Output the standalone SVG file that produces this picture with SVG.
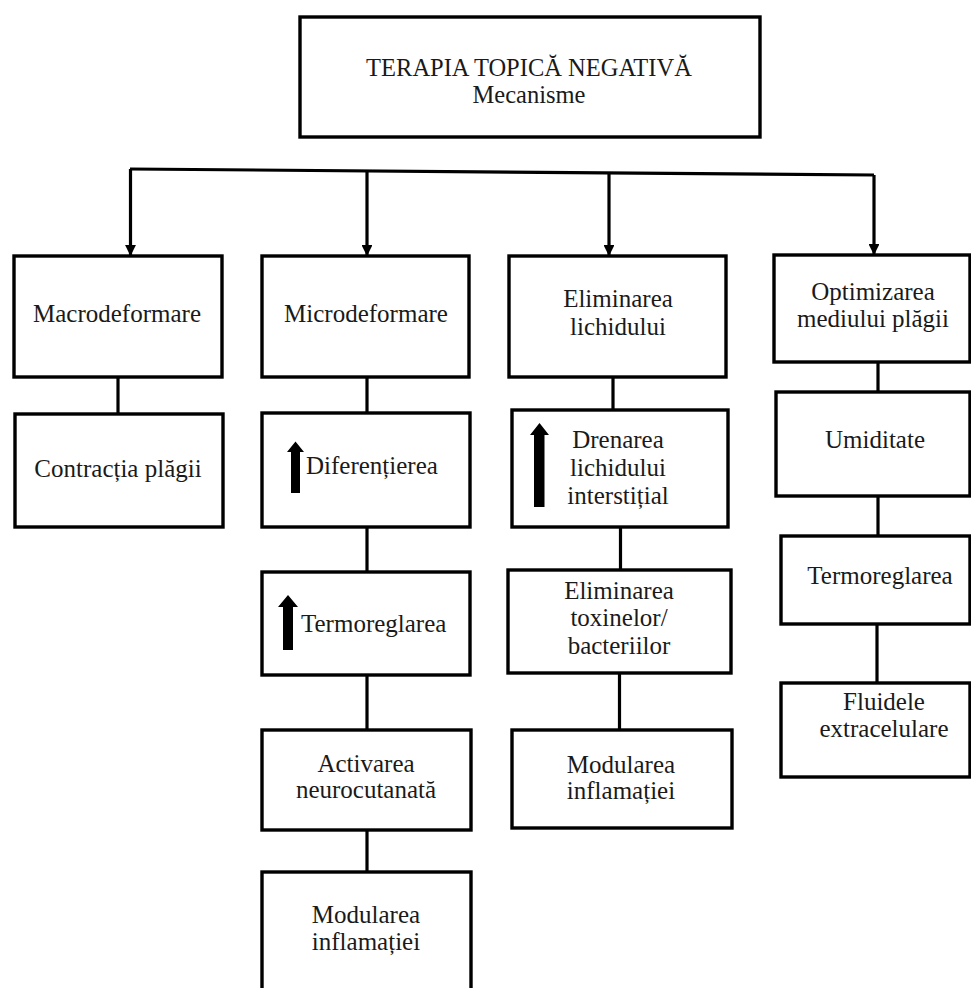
<svg xmlns="http://www.w3.org/2000/svg" width="971" height="988" viewBox="0 0 971 988">
<defs>
<style>
.box{fill:#fff;stroke:#000;stroke-width:3.4}
.ln{fill:none;stroke:#000;stroke-width:3.2}
text{font-family:"Liberation Serif","Times New Roman",serif;font-size:25px;fill:#1a1a1a;text-anchor:middle}
.title{font-size:24.5px}
.up{fill:#000}
</style>
<marker id="ah" viewBox="0 0 10 10" refX="10" refY="5" markerWidth="3.6" markerHeight="3.4" markerUnits="strokeWidth" orient="auto">
<path d="M0,0 L10,5 L0,10 z" fill="#000"/>
</marker>
</defs>
<rect width="971" height="988" fill="#fff"/>

<g id="connectors">
<path class="ln" d="M130,169 L874,175"/>
<path class="ln" d="M130.5,169 V256" marker-end="url(#ah)"/>
<path class="ln" d="M367,171 V256" marker-end="url(#ah)"/>
<path class="ln" d="M609,173 V256" marker-end="url(#ah)"/>
<path class="ln" d="M874,175 V255" marker-end="url(#ah)"/>
<path class="ln" d="M118,377 V414"/>
<path class="ln" d="M367,377 V413 M367,527 V572 M367,675 V730 M367,830 V872"/>
<path class="ln" d="M613,377 V410 M620.5,527 V570 M619.5,673 V730"/>
<path class="ln" d="M878,362 V392 M878,496 V536 M877,624 V683"/>
</g>

<g id="root">
<rect class="box" x="300" y="17" width="460" height="120"/>
<text class="title" x="529" y="76">TERAPIA TOPICĂ NEGATIVĂ</text>
<text class="title" x="529" y="103">Mecanisme</text>
</g>

<g id="macrodeformare">
<rect class="box" x="14" y="256" width="208" height="121"/>
<text x="117" y="322">Macrodeformare</text>
</g>
<g id="contractia">
<rect class="box" x="15" y="414" width="208" height="113"/>
<text x="118" y="477">Contracția plăgii</text>
</g>

<g id="microdeformare">
<rect class="box" x="262" y="256" width="207" height="121"/>
<text x="366" y="322">Microdeformare</text>
</g>
<g id="diferentierea">
<rect class="box" x="262" y="413" width="208" height="114"/>
<path class="up" d="M295.5,441.5 L304,452 L300,452 L300,493 L291,493 L291,452 L287,452 Z"/>
<text x="306" y="474" style="text-anchor:start">Diferențierea</text>
</g>
<g id="termoreglarea-2">
<rect class="box" x="262" y="572" width="208" height="103"/>
<path class="up" d="M288,595 L298,607 L293,607 L293,650 L283,650 L283,607 L278,607 Z"/>
<text x="301" y="632" style="text-anchor:start">Termoreglarea</text>
</g>
<g id="activarea">
<rect class="box" x="262" y="730" width="209" height="100"/>
<text x="366" y="772">Activarea</text>
<text x="366" y="798">neurocutanată</text>
</g>
<g id="modularea-2">
<rect class="box" x="262" y="872" width="209" height="130"/>
<text x="366" y="923">Modularea</text>
<text x="366" y="950">inflamației</text>
</g>

<g id="eliminarea-lichidului">
<rect class="box" x="509" y="256" width="217" height="121"/>
<text x="618" y="307">Eliminarea</text>
<text x="618" y="335">lichidului</text>
</g>
<g id="drenarea">
<rect class="box" x="512" y="410" width="216" height="117"/>
<path class="up" d="M539.5,423 L549,435 L544.5,435 L544.5,507 L534,507 L534,435 L530,435 Z"/>
<text x="618" y="448">Drenarea</text>
<text x="618" y="476">lichidului</text>
<text x="618" y="504">interstițial</text>
</g>
<g id="eliminarea-toxinelor">
<rect class="box" x="508" y="570" width="223" height="103"/>
<text x="619" y="599">Eliminarea</text>
<text x="619" y="626">toxinelor/</text>
<text x="619" y="654">bacteriilor</text>
</g>
<g id="modularea-3">
<rect class="box" x="512" y="730" width="220" height="98"/>
<text x="621" y="773">Modularea</text>
<text x="621" y="799">inflamației</text>
</g>

<g id="optimizarea">
<rect class="box" x="774" y="255" width="196" height="107"/>
<text x="873" y="300">Optimizarea</text>
<text x="873" y="327">mediului plăgii</text>
</g>
<g id="umiditate">
<rect class="box" x="776" y="392" width="194" height="104"/>
<text x="875" y="448">Umiditate</text>
</g>
<g id="termoreglarea-4">
<rect class="box" x="781" y="536" width="189" height="88"/>
<text x="880" y="584">Termoreglarea</text>
</g>
<g id="fluidele">
<rect class="box" x="781" y="683" width="189" height="94"/>
<text x="884" y="710">Fluidele</text>
<text x="884" y="737">extracelulare</text>
</g>
</svg>
